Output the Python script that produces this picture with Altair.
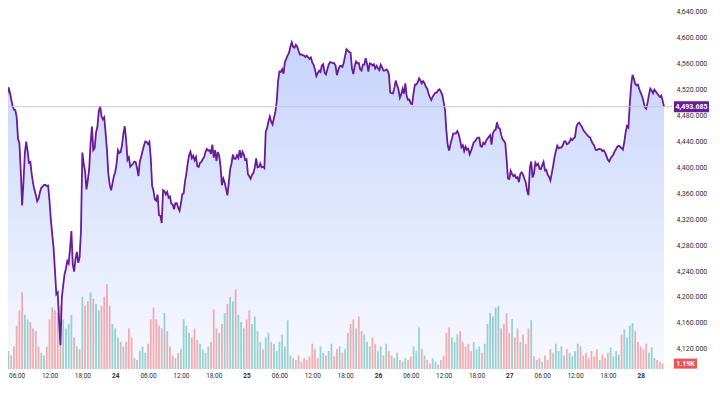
import altair as alt
import numpy as np
import pandas as pd

# ---------------- data (UTC) ----------------
START = "2025-08-23 04:00"
PRICE_STEP = "15min"
VOLUME_STEP = "30min"

prices = [
    4484.9, 4511.8, 4523.6, 4516.4, 4505.6, 4494.9, 4489.4, 4488.5, 4478.1, 4443.6,
    4437.7, 4395.3, 4341.2, 4378.4, 4422.1, 4439.7, 4425.2, 4407.1, 4408.3, 4389.9,
    4375.4, 4365.4, 4357.3, 4347.8, 4351.8, 4361.6, 4368.5, 4370.5, 4372.9, 4372.9,
    4371.4, 4372.0, 4348.6, 4318.8, 4296.6, 4275.4, 4240.2, 4204.0, 4206.8, 4163.9,
    4125.6, 4199.1, 4217.5, 4235.1, 4243.6, 4255.4, 4251.7, 4274.2, 4301.8, 4250.5,
    4239.0, 4258.9, 4269.6, 4252.8, 4261.2, 4301.8, 4422.9, 4406.0, 4393.8, 4366.2,
    4380.0, 4397.6, 4436.7, 4463.2, 4426.7, 4429.8, 4453.8, 4462.7, 4486.5, 4494.6,
    4478.8, 4474.2, 4477.3, 4453.1, 4426.4, 4389.8, 4373.4, 4364.6, 4374.9, 4386.1,
    4393.0, 4405.1, 4426.6, 4422.3, 4423.5, 4434.8, 4452.3, 4463.6, 4442.3, 4411.7,
    4415.7, 4401.1, 4403.6, 4405.6, 4409.1, 4408.2, 4398.4, 4386.7, 4409.1, 4416.4,
    4425.3, 4433.6, 4440.2, 4439.4, 4435.9, 4439.4, 4414.0, 4371.7, 4363.7, 4350.4,
    4348.6, 4358.1, 4326.3, 4325.3, 4314.2, 4364.8, 4363.4, 4358.2, 4362.0, 4353.3,
    4355.1, 4344.0, 4342.9, 4335.4, 4344.9, 4344.9, 4337.8, 4333.1, 4343.8, 4358.5,
    4359.6, 4378.0, 4390.1, 4406.8, 4418.9, 4424.1, 4414.3, 4418.1, 4410.9, 4416.1,
    4401.9, 4400.8, 4407.2, 4408.6, 4412.9, 4415.8, 4424.1, 4428.6, 4425.8, 4426.6,
    4420.9, 4435.0, 4415.1, 4426.6, 4409.9, 4423.8, 4418.0, 4400.8, 4372.5, 4382.6,
    4376.6, 4366.8, 4356.8, 4376.8, 4397.1, 4405.9, 4420.1, 4413.2, 4413.2, 4418.7,
    4414.6, 4426.7, 4414.8, 4424.3, 4420.0, 4411.2, 4412.3, 4389.5, 4386.4, 4382.6,
    4388.7, 4391.3, 4399.6, 4413.8, 4400.2, 4400.7, 4406.0, 4400.2, 4401.1, 4399.0,
    4454.8, 4460.9, 4470.9, 4478.7, 4470.7, 4466.3, 4476.4, 4485.6, 4501.2, 4532.8,
    4548.1, 4547.3, 4551.6, 4544.6, 4562.7, 4567.7, 4572.9, 4576.8, 4586.3, 4593.2,
    4586.1, 4584.7, 4589.2, 4586.4, 4580.0, 4574.3, 4574.3, 4573.2, 4572.6, 4570.5,
    4572.3, 4570.0, 4567.4, 4569.6, 4562.0, 4558.5, 4550.9, 4540.9, 4545.5, 4549.3,
    4547.2, 4557.4, 4559.3, 4546.4, 4543.5, 4551.2, 4558.7, 4562.7, 4562.0, 4561.0,
    4561.1, 4557.3, 4542.4, 4550.2, 4556.1, 4556.8, 4555.1, 4561.4, 4572.3, 4582.4,
    4580.1, 4578.0, 4577.1, 4552.8, 4544.1, 4556.7, 4563.6, 4560.7, 4561.1, 4551.6,
    4549.5, 4558.7, 4558.7, 4568.5, 4560.2, 4548.1, 4560.8, 4559.7, 4557.4, 4559.3,
    4552.8, 4556.7, 4553.0, 4550.2, 4558.5, 4554.5, 4549.5, 4549.5, 4551.3, 4549.8,
    4543.6, 4515.5, 4514.5, 4514.2, 4523.1, 4534.1, 4526.6, 4520.3, 4507.6, 4512.7,
    4521.4, 4513.9, 4529.9, 4510.1, 4504.1, 4504.7, 4498.6, 4497.8, 4514.8, 4527.9,
    4527.9, 4531.2, 4537.5, 4534.1, 4529.7, 4533.2, 4529.9, 4524.3, 4521.6, 4513.6,
    4508.2, 4504.1, 4509.2, 4512.7, 4515.6, 4515.6, 4519.3, 4520.7, 4517.0, 4512.1,
    4500.9, 4488.8, 4456.8, 4433.8, 4425.9, 4436.4, 4444.0, 4452.5, 4452.2, 4452.9,
    4456.0, 4451.2, 4442.2, 4431.2, 4434.2, 4425.3, 4432.1, 4427.2, 4428.7, 4420.3,
    4425.6, 4432.1, 4438.8, 4440.2, 4444.2, 4446.0, 4446.0, 4432.7, 4432.1, 4438.2,
    4435.9, 4441.1, 4444.5, 4447.3, 4449.9, 4435.0, 4452.9, 4457.2, 4458.1, 4469.6,
    4460.9, 4460.3, 4450.6, 4443.6, 4441.0, 4438.1, 4412.6, 4382.9, 4382.3, 4394.7,
    4389.8, 4386.3, 4388.6, 4383.5, 4385.0, 4377.2, 4389.6, 4392.5, 4389.0, 4382.6,
    4376.8, 4364.0, 4357.0, 4399.6, 4409.1, 4384.3, 4390.7, 4407.1, 4403.0, 4405.6,
    4397.9, 4397.4, 4403.1, 4408.5, 4395.3, 4396.4, 4388.6, 4385.6, 4380.0, 4390.7,
    4402.2, 4415.8, 4425.0, 4433.5, 4429.5, 4430.9, 4430.7, 4433.8, 4440.0, 4440.5,
    4435.6, 4436.7, 4439.6, 4444.6, 4442.3, 4445.0, 4446.9, 4462.7, 4467.5, 4469.3,
    4465.9, 4463.0, 4457.8, 4455.1, 4452.3, 4449.7, 4447.4, 4446.3, 4440.8, 4436.4,
    4433.9, 4427.2, 4426.9, 4428.1, 4428.6, 4427.9, 4425.2, 4426.6, 4422.9, 4417.4,
    4411.8, 4409.1, 4414.3, 4417.1, 4419.7, 4425.0, 4428.4, 4432.4, 4433.3, 4431.8,
    4429.9, 4427.5, 4439.3, 4454.6, 4464.0, 4461.5, 4497.2, 4526.6, 4542.9, 4536.9,
    4528.9, 4526.8, 4528.0, 4520.3, 4515.1, 4509.8, 4502.1, 4492.9, 4490.8, 4500.0,
    4512.1, 4521.6, 4518.8, 4514.4, 4520.0, 4517.1, 4514.1, 4511.3, 4508.7, 4510.9,
    4503.2, 4493.685,
]

volumes_k = [
    7.2, 4.0, 3.0, 5.0, 9.6, 13.0, 17.0, 12.0, 11.0, 10.4,
    9.0, 8.4, 5.0, 3.6, 3.0, 5.0, 11.0, 13.6, 13.0, 12.4,
    14.0, 11.0, 9.0, 10.0, 12.0, 7.0, 5.0, 4.4, 16.0, 14.0,
    15.0, 17.0, 15.6, 14.4, 13.0, 14.0, 16.0, 18.8, 14.0, 10.0,
    9.0, 7.0, 6.0, 5.0, 6.0, 9.0, 7.0, 2.4, 2.0, 4.0,
    5.0, 3.6, 5.6, 11.0, 13.6, 11.0, 9.6, 9.0, 12.4, 8.4,
    5.0, 3.0, 2.4, 3.6, 4.4, 11.0, 9.6, 8.0, 7.0, 9.0,
    6.4, 5.6, 4.4, 3.6, 5.0, 6.0, 13.2, 9.0, 8.0, 10.0,
    12.4, 14.4, 16.0, 15.0, 17.6, 12.0, 10.4, 9.0, 11.0, 13.0,
    10.0, 11.6, 8.4, 6.0, 4.4, 7.0, 8.0, 6.0, 5.6, 4.0,
    6.0, 7.6, 5.0, 10.8, 3.0, 2.4, 2.0, 3.0, 1.6, 2.4,
    2.0, 2.8, 5.6, 4.4, 2.4, 5.0, 3.6, 3.0, 4.0, 5.6,
    2.8, 4.4, 5.0, 3.6, 4.4, 8.0, 10.0, 11.0, 9.0, 11.6,
    8.4, 7.6, 6.0, 5.0, 7.0, 5.6, 4.0, 5.0, 3.0, 5.6,
    4.0, 3.0, 2.4, 3.6, 2.0, 1.6, 2.4, 2.0, 2.8, 5.0,
    4.0, 9.2, 4.4, 3.0, 2.0, 1.2, 2.4, 1.6, 1.0, 2.0,
    3.0, 8.0, 9.2, 7.0, 6.0, 7.6, 8.4, 6.0, 5.0, 5.6,
    4.0, 6.0, 4.4, 5.0, 3.6, 5.6, 10.0, 12.4, 11.6, 13.6,
    14.0, 9.0, 10.0, 12.4, 8.0, 11.0, 7.0, 9.0, 6.0, 7.6,
    5.6, 9.0, 10.8, 2.8, 2.0, 2.4, 1.6, 3.0, 2.0, 4.4,
    3.6, 5.6, 4.0, 5.0, 3.0, 4.4, 3.6, 2.8, 4.0, 5.6,
    5.0, 3.0, 3.6, 2.4, 4.0, 2.8, 4.4, 2.0, 3.2, 2.4,
    3.6, 4.8, 2.8, 4.0, 3.2, 7.6, 8.8, 7.0, 9.6, 10.2,
    8.4, 6.0, 5.0, 4.4, 5.6, 3.6, 4.8, 2.4, 2.0, 1.6,
    1.19,
]

LAST_PRICE = 4493.685
LAST_PRICE_LABEL = "4,493.685"
LAST_VOLUME_LABEL = "1.19K"
PRICE_TICKS = list(range(4120, 4641, 40))

# ---------------- layout ----------------
W, H = 664, 361
PRICE_DOMAIN = [4088.8, 4646.1]
VOL_DOMAIN = [0, 80.0]
ANCHOR = pd.Timestamp("2025-08-24 00:00", tz="UTC")


def ms(ts):
    return int(ts.value // 10**6)


X_DOMAIN = [ms(ANCHOR + pd.Timedelta(hours=-18.667)), ms(ANCHOR + pd.Timedelta(hours=100.8))]
X_TICKS = [ms(t) for t in pd.date_range("2025-08-23 06:00", "2025-08-28 00:00", freq="6h", tz="UTC")]

p_times = pd.date_range(START, periods=len(prices), freq=PRICE_STEP, tz="UTC")
df_p = pd.DataFrame({"t": p_times.strftime("%Y-%m-%dT%H:%M:%SZ"), "price": prices})

v_times = pd.date_range(START, periods=len(volumes_k), freq=VOLUME_STEP, tz="UTC")
closes = pd.Series(prices).set_axis(p_times).reindex(v_times)
df_v = pd.DataFrame({
    "t": v_times.strftime("%Y-%m-%dT%H:%M:%SZ"),
    "vol": volumes_k,
    "dir": np.where(closes.diff().fillna(0).to_numpy() >= 0, "up", "down"),
})
one = pd.DataFrame({"k": [0]})

FONT = "Roboto"
LABEL_COLOR = "#2a2e39"
PURPLE = "#6a1b9a"

x_enc = alt.X(
    "t:T",
    scale=alt.Scale(type="utc", domain=X_DOMAIN, nice=False),
    axis=alt.Axis(
        values=X_TICKS,
        labelExpr="utchours(datum.value) == 0 ? utcFormat(datum.value, '%d') : utcFormat(datum.value, '%H:%M')",
        labelFontWeight={"condition": {"test": "utchours(datum.value) == 0", "value": "bold"}, "value": "normal"},
        labelFontSize=6.5,
        labelFont=FONT,
        labelColor=LABEL_COLOR,
        labelPadding=3,
        labelOverlap=False,
        labelFlush=False,
        ticks=False,
        tickSize=0,
        domain=False,
        grid=False,
        title=None,
    ),
)

price_scale = alt.Scale(domain=PRICE_DOMAIN, nice=False, zero=False)
vol_scale = alt.Scale(domain=VOL_DOMAIN, nice=False, zero=True)

area = alt.Chart(df_p).mark_area(
    clip=True,
    color=alt.Gradient(
        gradient="linear",
        stops=[alt.GradientStop(color="#f8f9ff", offset=0), alt.GradientStop(color="#c6d4fb", offset=1)],
        x1=1, x2=1, y1=1, y2=0,
    ),
).encode(
    x=x_enc,
    y=alt.Y("price:Q", scale=price_scale,
            axis=alt.Axis(orient="right", values=PRICE_TICKS, format=",.3f", labelFontSize=7,
                          labelFont=FONT, labelColor=LABEL_COLOR, labelPadding=4, ticks=False,
                          tickSize=0, domain=False, grid=False, title=None)),
    y2=alt.Y2(datum=PRICE_DOMAIN[0]),
)

bars = alt.Chart(df_v).mark_bar(clip=True, size=1.8, opacity=0.45).encode(
    x=x_enc,
    y=alt.Y("vol:Q", scale=vol_scale, axis=None),
    color=alt.Color("dir:N", scale=alt.Scale(domain=["up", "down"], range=["#26a69a", "#ef5350"]), legend=None),
)

line = alt.Chart(df_p).mark_line(clip=True, color=PURPLE, strokeWidth=1.8).encode(
    x=x_enc,
    y=alt.Y("price:Q", scale=price_scale, axis=None),
)

price_rule = alt.Chart(one).mark_rule(color="#c9c4cf", strokeWidth=1).encode(
    y=alt.Y(datum=LAST_PRICE, type="quantitative", scale=price_scale, axis=None),
)

price_box = alt.Chart(one).mark_point(
    shape="M-1,-0.314L1,-0.314L1,0.314L-1,0.314Z", size=1225, filled=True, opacity=1, fill=PURPLE, strokeWidth=0,
).encode(
    x=alt.value(W + 19.5),
    y=alt.Y(datum=LAST_PRICE, type="quantitative", scale=price_scale, axis=None),
)
price_text = alt.Chart(one).mark_text(
    text=LAST_PRICE_LABEL, color="white", fontSize=7, fontWeight="bold", font=FONT, align="center", baseline="middle",
).encode(
    x=alt.value(W + 19.5),
    y=alt.Y(datum=LAST_PRICE, type="quantitative", scale=price_scale, axis=None),
)

vol_box = alt.Chart(one).mark_point(
    shape="M-1,-0.435L1,-0.435L1,0.435L-1,0.435Z", size=529, filled=True, opacity=1, fill="#ef5350", strokeWidth=0,
).encode(
    x=alt.value(W + 13.5),
    y=alt.Y(datum=volumes_k[-1], type="quantitative", scale=vol_scale, axis=None),
)
vol_text = alt.Chart(one).mark_text(
    text=LAST_VOLUME_LABEL, color="white", fontSize=7, fontWeight="bold", font=FONT, align="center", baseline="middle",
).encode(
    x=alt.value(W + 13.5),
    y=alt.Y(datum=volumes_k[-1], type="quantitative", scale=vol_scale, axis=None),
)

chart = alt.layer(
    area, bars, line, price_rule, price_box, price_text, vol_box, vol_text
).resolve_scale(y="independent").properties(
    width=W,
    height=H,
    autosize=alt.AutoSizeParams(type="none"),
    padding={"left": 0, "top": 0, "right": 40, "bottom": 13},
    background="white",
).configure_view(stroke=None)

chart.save("out.html", embed_options={"renderer": "svg", "actions": False})
